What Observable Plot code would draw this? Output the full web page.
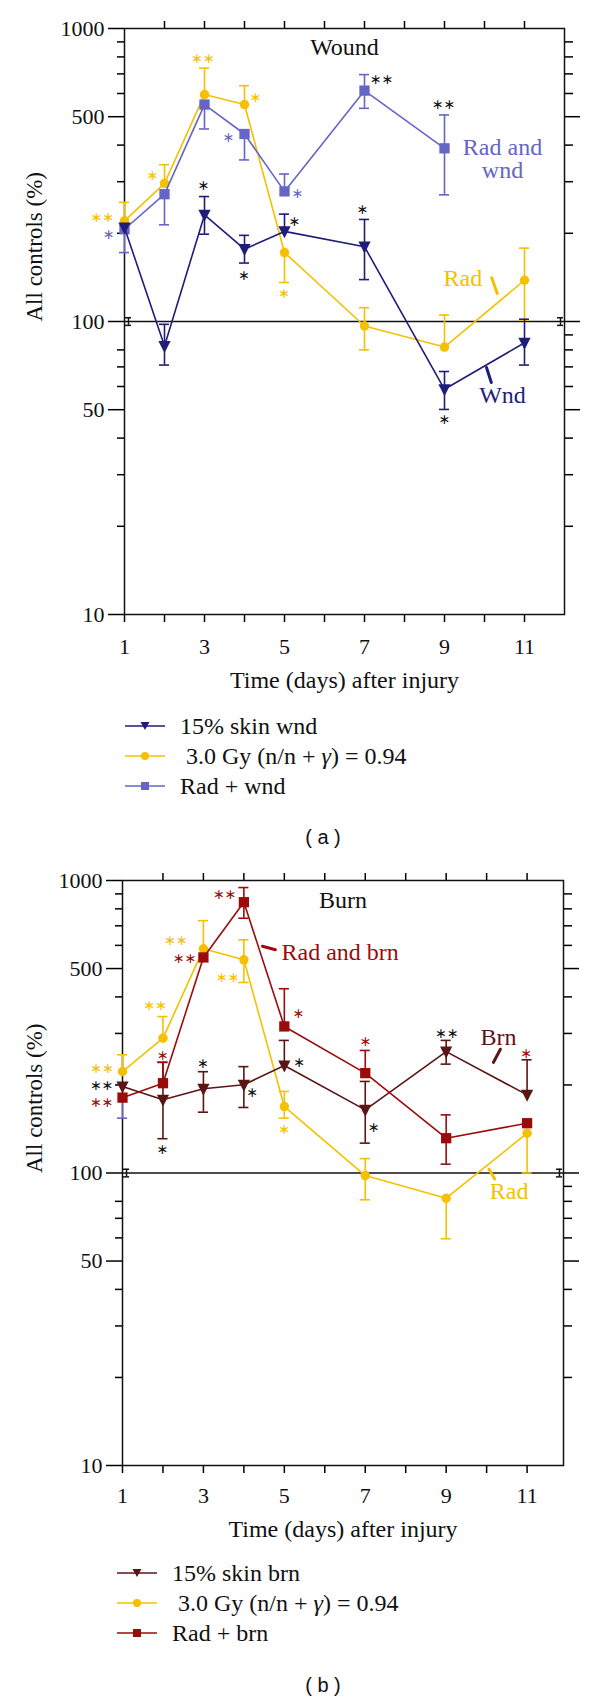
<!DOCTYPE html>
<html>
<head>
<meta charset="utf-8">
<script src="https://cdn.jsdelivr.net/npm/d3@7"></script>
<script src="https://cdn.jsdelivr.net/npm/@observablehq/plot@0.6"></script>
<style>
  body { margin: 0; background: #fff; width: 600px; }
  .legend { font-family: "Liberation Serif", "Times New Roman", serif; font-size: 24px; color: #111; }
  .legend .row { display: flex; align-items: center; height: 30px; }
  .legend .row span { margin-left: 15px; white-space: pre; }
  .cap { font-family: "Liberation Sans", Arial, sans-serif; font-size: 20px; height: 30px; line-height: 30px; text-align: center; padding-left: 46px; width: 554px; color: #111; }
</style>
</head>
<body>
<div id="pa"></div>
<div class="legend" id="la" style="padding-top:11px;padding-left:125px"></div>
<div class="cap" style="margin-top:21px">( a )</div>
<div id="pb"></div>
<div class="legend" id="lb" style="padding-top:7px;padding-left:117px"></div>
<div class="cap" style="margin-top:22px">( b )</div>
<script>
// ---------- data ----------
const days = [1, 2, 3, 4, 5, 7, 9, 11];

// Panel (a): Wound
const wndA   = [209, 82.5, 231, 176.5, 203, 180, 58.7, 84.6];
const wndAHi = [null, 97.8, 267, 196.8, 232.5, 223, 67.5, 101.8];
const wndALo = [null, 71, 198.6, 158.3, null, 139, 50.1, 71];
const radA   = [220.6, 296, 595, 550, 171.9, 96.5, 81.8, 138.3];
const radAHi = [255, 343, 732, 638, null, 111.5, 105.2, 178];
const radALo = [null, null, null, null, 135.8, 80, null, 101];
const rwA    = [206.5, 272, 550, 436.5, 278, 613.7, 390, null];
const rwAHi  = [null, null, null, null, 318.6, 696, 507, null];
const rwALo  = [171.9, 213.8, 454, 356, null, 534, 270.6, null];

// Panel (b): Burn
const brnB   = [197.6, 178, 194, 200.3, 233, 164.4, 260, 185];
const brnBHi = [null, 239, 222, 231, 284, 205.6, 284, 243.8];
const brnBLo = [null, 131, 161.4, 167.5, null, 126.5, 235.6, null];
const rbB    = [181, 202.8, 545.7, 843, 317, 219.5, 131.5, 148];
const rbBHi  = [null, 239, null, 946, 426.6, 262.4, 158, null];
const rbBLo  = [154, null, null, 743, null, null, 107.2, null];
const radB   = [222.3, 289, 584, 535.6, 168.7, 98, 82, 136.8];
const radBHi = [253.6, 342.7, 729, 627, 190, 112, null, null];
const radBLo = [null, null, null, 448, 154, 81, 59.6, 100];

// control line (100%) with its small error bars at both ends
const controlValue = 100;
const controlErr = [97, 103];
const controlDaysA = [1.1, 11.9];
const controlDaysB = [1.1, 11.8];

// axis ticks
const xTicks = [1, 2, 3, 4, 5, 6, 7, 8, 9, 10, 11];
const xTopTicks = [2, 3, 4, 5, 6, 7, 8, 9, 10, 11];
const xLabels = [1, 3, 5, 7, 9, 11];
const yMajor = [10, 50, 100, 500, 1000];
const yMinorLeft = [20, 30, 40, 60, 70, 80, 200, 300, 400, 600, 700, 800, 900];
const yRightMajor = [50, 100, 500];
const yRightMinor = [20, 30, 40, 60, 70, 80, 90, 200, 300, 400, 600, 700, 800, 900];

// significance stars (day, value, text, series)
const starDayA = [0.45, 0.61, 1.7, 2.96, 2.98, 4.28, 3.6, 3.99, 5.33, 5.25, 4.99, 6.95, 7.43, 8.98, 9.0];
const starValA = [226.5, 198, 314, 790, 290.6, 582, 425, 144, 274, 219.5, 124.8, 240.6, 669, 549.6, 46.4];
const starTxtA = ["∗∗", "∗", "∗", "∗∗", "∗", "∗", "∗", "∗", "∗", "∗", "∗", "∗", "∗∗", "∗∗", "∗"];
const starSerA = ["rad", "rw", "rad", "rad", "k", "rad", "rw", "k", "rw", "k", "rad", "k", "k", "k", "k"];

const starDayB = [0.5, 1.81, 2.32, 3.6, 5.0, 0.49, 2.0, 2.54, 3.53, 5.35, 7.01, 10.98, 0.49, 1.99, 2.99, 4.21, 5.37, 7.21, 9.02];
const starValB = [228, 374, 624, 466, 140.6, 174.8, 252, 541, 896, 351.7, 281.5, 257, 199.7, 120.6, 236, 189, 239, 143, 300.6];
const starTxtB = ["∗∗", "∗∗", "∗∗", "∗∗", "∗", "∗∗", "∗", "∗∗", "∗∗", "∗", "∗", "∗", "∗∗", "∗", "∗", "∗", "∗", "∗", "∗∗"];
const starSerB = ["rad", "rad", "rad", "rad", "rad", "rb", "rb", "rb", "rb", "rb", "rb", "rb", "k", "k", "k", "k", "k", "k", "k"];

// in-plot series labels (day, value, text, series)
const labDayA = [10.45, 9.46, 10.45];
const labValA = [357, 140, 55.9];
const labTxtA = ["Rad and\nwnd", "Rad", "Wnd"];
const labSerA = ["rw", "rad", "wnd"];

const labDayB = [4.93, 9.85, 10.08];
const labValB = [570, 291, 86.5];
const labTxtB = ["Rad and brn", "Brn", "Rad"];
const labSerB = ["rb", "brn", "rad"];

// little pointer strokes next to the labels
const leadA = { d1: [10.18, 10.05], v1: [141, 69.7], d2: [10.32, 10.17], v2: [124.6, 61.9], s: ["rad", "wnd"] };
const leadB = { d1: [4.46, 10.34, 10.06], v1: [596, 265, 103], d2: [4.78, 10.17, 10.2], v2: [580, 239, 95.4], s: ["rb", "brn", "rad"] };

// ---------- styles ----------
const colors = { wnd: "#1e1e7a", rw: "#6565c9", rad: "#f5c000", brn: "#5b1515", rb: "#9b0b0b", k: "#111111" };
const serif = "Liberation Serif, Times New Roman, serif";

const triDown = {
  draw(ctx, size) {
    const r = Math.sqrt(size / Math.PI);
    ctx.moveTo(-1.02 * r, -0.85 * r);
    ctx.lineTo(1.02 * r, -0.85 * r);
    ctx.lineTo(0, 1.15 * r);
    ctx.closePath();
  }
};

function rows(vals) {
  return days.map((d, i) => ({ d, v: vals[i] })).filter(r => r.v != null);
}

function errMarks(vals, hi, lo, color, capHalf, skipLo) {
  const up = days.map((d, i) => ({ d, v: vals[i], e: hi[i] })).filter(r => r.e != null && r.v != null);
  const dn = days.map((d, i) => ({ d, v: vals[i], e: lo[i], i })).filter(r => r.e != null && r.v != null && !(skipLo || []).includes(r.i));
  const o = { stroke: color, strokeWidth: 1.6 };
  return [
    Plot.ruleX(up, { x: "d", y1: "v", y2: "e", ...o }),
    Plot.ruleY(up, { y: "e", x1: r => r.d - capHalf, x2: r => r.d + capHalf, ...o }),
    Plot.ruleX(dn, { x: "d", y1: "v", y2: "e", ...o }),
    Plot.ruleY(dn, { y: "e", x1: r => r.d - capHalf, x2: r => r.d + capHalf, ...o })
  ];
}

function seriesMarks(vals, color, symbol, r) {
  return [
    Plot.line(rows(vals), { x: "d", y: "v", stroke: color, strokeWidth: 1.6 }),
    Plot.dot(rows(vals), { x: "d", y: "v", symbol, r, fill: color, stroke: "none" })
  ];
}

function frameMarks(cfg) {
  const lw = 1.5;
  const capW = 0.075;
  const ctrl = cfg.controlDays.map(d => ({ d }));
  return [
    Plot.ruleY([controlValue], { stroke: "#111", strokeWidth: lw }),
    Plot.ruleX(ctrl, { x: "d", y1: controlErr[0], y2: controlErr[1], stroke: "#111", strokeWidth: lw }),
    Plot.ruleY(ctrl, { y: controlErr[0], x1: r => r.d - capW, x2: r => r.d + capW, stroke: "#111", strokeWidth: lw }),
    Plot.ruleY(ctrl, { y: controlErr[1], x1: r => r.d - capW, x2: r => r.d + capW, stroke: "#111", strokeWidth: lw }),
    Plot.axisX({ anchor: "top", ticks: xTopTicks, tickSize: 8, tickFormat: () => "", strokeWidth: lw, label: null }),
    Plot.axisX({ anchor: "bottom", ticks: xTicks, tickSize: 8, tickFormat: () => "", strokeWidth: lw, label: null }),
    Plot.axisY({ anchor: "left", ticks: yMajor, tickSize: 16, tickFormat: () => "", strokeWidth: lw, label: null }),
    Plot.axisY({ anchor: "left", ticks: yMinorLeft, tickSize: 7, tickFormat: () => "", strokeWidth: lw, label: null }),
    Plot.axisY({ anchor: "right", ticks: yRightMajor, tickSize: 15, tickFormat: () => "", strokeWidth: lw, label: null }),
    Plot.axisY({ anchor: "right", ticks: yRightMinor, tickSize: 8, tickFormat: () => "", strokeWidth: lw, label: null }),
    Plot.text(xLabels, { x: d => d, frameAnchor: "bottom", dy: cfg.xLabDy, lineAnchor: "middle", text: d => String(d), fontSize: 22, fontFamily: serif, fill: "#111" }),
    Plot.text(yMajor, { y: d => d, frameAnchor: "left", dx: -20, textAnchor: "end", lineAnchor: "middle", text: d => String(d), fontSize: 22, fontFamily: serif, fill: "#111" }),
    Plot.text(["Time (days) after injury"], { frameAnchor: "bottom", dy: cfg.xTitleDy, lineAnchor: "middle", fontSize: 24, fontFamily: serif, fill: "#111" }),
    Plot.text(["All controls (%)"], { frameAnchor: "left", dx: cfg.yTitleDx, rotate: -90, lineAnchor: "middle", fontSize: 23, fontFamily: serif, fill: "#111" }),
    Plot.text([cfg.title], { frameAnchor: "top", dy: cfg.titleDy, lineAnchor: "middle", fontSize: 24, fontFamily: serif, fill: "#111" }),
    Plot.frame({ stroke: "#111", strokeWidth: lw })
  ];
}

function annotMarks(sd, sv, st, ss, lead) {
  const stars = sd.map((d, i) => ({ d, v: sv[i], t: st[i], c: colors[ss[i]] }));
  const leads = lead.d1.map((d, i) => ({ x1: d, y1: lead.v1[i], x2: lead.d2[i], y2: lead.v2[i], c: colors[lead.s[i]] }));
  return [
    Plot.link(leads, { x1: "x1", y1: "y1", x2: "x2", y2: "y2", stroke: "c", strokeWidth: 3, strokeLinecap: "round" }),
    Plot.text(stars, { x: "d", y: "v", text: "t", fill: "c", fontSize: 14, fontFamily: "DejaVu Sans", lineAnchor: "middle" })
  ];
}

// ---------- panel (a) ----------
const plotA = Plot.plot({
  width: 600, height: 700,
  marginTop: 28, marginBottom: 86, marginLeft: 124, marginRight: 36,
  x: { domain: [1, 12] },
  y: { type: "log", domain: [10, 1000] },
  style: { background: "#fff", overflow: "visible" },
  marks: [
    ...frameMarks({ controlDays: controlDaysA, xLabDy: 32, xTitleDy: 66, yTitleDx: -90, title: "Wound", titleDy: 19 }),
    ...errMarks(radA, radAHi, radALo, colors.rad, 0.125),
    ...errMarks(rwA, rwAHi, rwALo, colors.rw, 0.125),
    ...errMarks(wndA, wndAHi, wndALo, colors.wnd, 0.125),
    ...seriesMarks(radA, colors.rad, "circle", 4.7),
    ...seriesMarks(rwA, colors.rw, "square", 5.8),
    ...seriesMarks(wndA, colors.wnd, triDown, 6),
    ...annotMarks(starDayA, starValA, starTxtA, starSerA, leadA),
    Plot.text(labDayA.map((d, i) => ({ d, v: labValA[i], t: labTxtA[i], c: colors[labSerA[i]] })),
      { x: "d", y: "v", text: "t", fill: "c", fontSize: 24, fontFamily: serif, lineAnchor: "middle", lineHeight: 0.96, textAnchor: "middle" })
  ]
});
document.getElementById("pa").appendChild(plotA);

// ---------- panel (b) ----------
const plotB = Plot.plot({
  width: 600, height: 699,
  marginTop: 28, marginBottom: 86, marginLeft: 122, marginRight: 37,
  x: { domain: [1, 11.9] },
  y: { type: "log", domain: [10, 1000] },
  style: { background: "#fff", overflow: "visible" },
  marks: [
    ...frameMarks({ controlDays: controlDaysB, xLabDy: 30, xTitleDy: 64, yTitleDx: -88, title: "Burn", titleDy: 20 }),
    ...errMarks(radB, radBHi, radBLo, colors.rad, 0.125),
    ...errMarks(brnB, brnBHi, brnBLo, colors.brn, 0.125),
    ...errMarks(rbB, rbBHi, rbBLo, colors.rb, 0.125, [0]),
    // the day-1 lower bar of Rad + brn is printed in the blue of panel (a)
    ...errMarks(rbB.map((v, i) => i === 0 ? v : null), rbBHi.map(() => null), rbBLo, colors.rw, 0.125),
    ...seriesMarks(radB, colors.rad, "circle", 4.7),
    ...seriesMarks(brnB, colors.brn, triDown, 6),
    ...seriesMarks(rbB, colors.rb, "square", 5.8),
    ...annotMarks(starDayB, starValB, starTxtB, starSerB, leadB),
    Plot.text(labDayB.map((d, i) => ({ d, v: labValB[i], t: labTxtB[i], c: colors[labSerB[i]] })),
      { x: "d", y: "v", text: "t", fill: "c", fontSize: 24, fontFamily: serif, lineAnchor: "middle", textAnchor: "start" })
  ]
});
document.getElementById("pb").appendChild(plotB);

// ---------- legends ----------
function swatch(color, kind) {
  let m = "";
  if (kind === "tri") m = `<polygon points="15.5,4 24.5,4 20,12" fill="${color}"/>`;
  if (kind === "circle") m = `<circle cx="20" cy="8" r="4" fill="${color}"/>`;
  if (kind === "square") m = `<rect x="16" y="4" width="8" height="8" fill="${color}"/>`;
  return `<svg width="40" height="16" viewBox="0 0 40 16"><line x1="0" x2="40" y1="8" y2="8" stroke="${color}" stroke-width="1.6"/>${m}</svg>`;
}
function legend(el, items) {
  el.innerHTML = items.map(([c, k, t]) => `<div class="row">${swatch(c, k)}<span>${t}</span></div>`).join("");
}
const gyLabel = " 3.0 Gy (n/n + <i>γ</i>) = 0.94";
legend(document.getElementById("la"), [
  [colors.wnd, "tri", "15% skin wnd"],
  [colors.rad, "circle", gyLabel],
  [colors.rw, "square", "Rad + wnd"]
]);
legend(document.getElementById("lb"), [
  [colors.brn, "tri", "15% skin brn"],
  [colors.rad, "circle", gyLabel],
  [colors.rb, "square", "Rad + brn"]
]);
</script>
</body>
</html>
